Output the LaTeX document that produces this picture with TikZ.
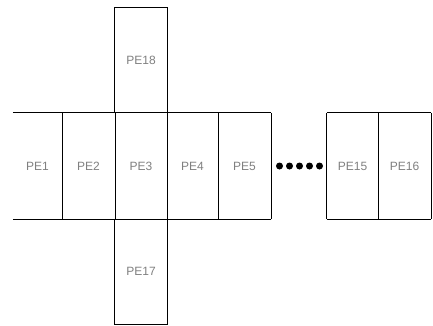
\documentclass[tikz,border=0pt]{standalone}
\usepackage{fontspec}
\setmainfont{Liberation Sans}
\begin{document}
\begin{tikzpicture}[x=1pt,y=-1pt,
  cell/.style={minimum height=106pt,inner sep=0pt,font=\fontsize{12}{12}\selectfont,text=black!50},
  wall/.style={line width=1.2pt,black},
  dot/.style={circle,fill=black,inner sep=0pt,minimum size=7pt}]
\useasboundingbox (0,0) rectangle (433,325);
% row of processing elements
\node[cell,minimum width=49pt] (pe1)  at (37.5,166) {PE1};
\node[cell,minimum width=53pt] (pe2)  at (88.5,166) {PE2};
\node[cell,minimum width=52pt] (pe3)  at (141,166)  {PE3};
\node[cell,minimum width=51pt] (pe4)  at (192.5,166) {PE4};
\node[cell,minimum width=53pt] (pe5)  at (244.5,166) {PE5};
\node[cell,minimum width=51pt] (pe15) at (352.5,166) {PE15};
\node[cell,minimum width=53pt] (pe16) at (404.5,166) {PE16};
% column above and below PE3
\node[cell,minimum width=52pt,minimum height=105pt] (pe18) at (141,60.5)  {PE18};
\node[cell,minimum width=52pt,minimum height=105pt] (pe17) at (141,271.5) {PE17};
% ellipsis dots
\foreach \i/\xx in {1/279.5,2/289.5,3/299.5,4/309.5,5/319.5}
  \node[dot] (d\i) at (\xx,166) {};
% borders
\draw[wall] (pe1.north west) -- (pe5.north east);
\draw[wall] (pe1.south west) -- (pe5.south east);
\draw[wall] (pe15.north west) -- (pe16.north east);
\draw[wall] (pe15.south west) -- (pe16.south east);
\foreach \c in {pe1,pe2,pe3,pe4,pe5,pe15,pe16}
  \draw[wall] (\c.north east) -- (\c.south east);
\draw[wall] (pe15.north west) -- (pe15.south west);
\draw[wall] (pe18.south west) -- (pe18.north west) -- (pe18.north east) -- (pe18.south east);
\draw[wall] (pe17.north west) -- (pe17.south west) -- (pe17.south east) -- (pe17.north east);
\end{tikzpicture}
\end{document}
